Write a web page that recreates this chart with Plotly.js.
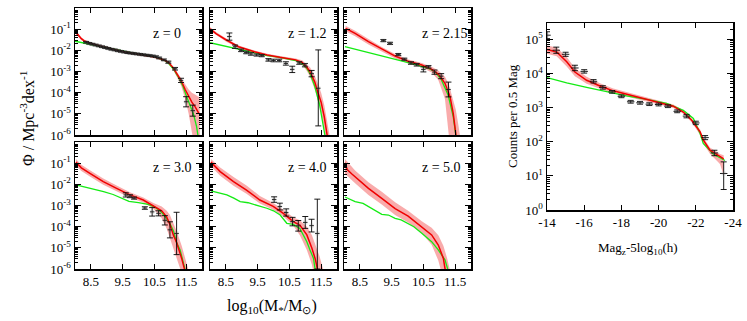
<!DOCTYPE html>
<html>
<head>
<meta charset="utf-8">
<script src="https://cdn.plot.ly/plotly-3.0.1.min.js"></script>
<style>html,body{margin:0;padding:0;background:#fff;}#chart{width:747px;height:321px;}</style>
</head>
<body>
<div id="chart"></div>
<script>
// ---------------- DATA (log10 values) ----------------
const zLabels = ['z = 0', 'z = 1.2', 'z = 2.15', 'z = 3.0', 'z = 4.0', 'z = 5.0'];
const massTicks = [8.5, 9.5, 10.5, 11.5];
const magTicks = [-14, -16, -18, -20, -22, -24];

// z = 0
const z0_redX = [8.0, 8.1, 8.2, 8.3, 8.5, 8.9, 9.5, 10.0, 10.5, 10.8, 10.95, 11.1, 11.25, 11.35, 11.47, 11.58, 11.68, 11.79, 11.9];
const z0_redY = [-1.1, -1.3, -1.45, -1.56, -1.68, -1.84, -2.06, -2.19, -2.32, -2.45, -2.58, -2.84, -3.2, -3.45, -3.85, -4.2, -4.45, -4.68, -4.98];
const z0_bandX = [8.0, 8.1, 8.2, 8.3, 8.5, 8.9, 9.5, 10.0, 10.5, 10.8, 10.95, 11.1, 11.25, 11.35, 11.47, 11.58, 11.68, 11.79, 11.9, 11.93];
const z0_bandHi = [-1.0, -1.22, -1.38, -1.5, -1.63, -1.8, -2.02, -2.15, -2.28, -2.41, -2.53, -2.76, -3.08, -3.3, -3.6, -3.85, -4.0, -4.1, -4.2, -4.3];
const z0_bandLo = [-1.2, -1.38, -1.52, -1.62, -1.73, -1.88, -2.1, -2.23, -2.36, -2.5, -2.65, -2.95, -3.38, -3.7, -4.3, -5.0, -5.9, -6.8, -7, -7];
const z0_greenX = [8.0, 8.3, 8.6, 9.0, 9.5, 10.0, 10.5, 10.8, 10.95, 11.1, 11.25, 11.4, 11.52, 11.63, 11.73, 11.83, 11.88];
const z0_greenY = [-1.57, -1.66, -1.75, -1.87, -2.05, -2.18, -2.31, -2.46, -2.62, -2.88, -3.25, -3.7, -4.2, -4.6, -5.0, -5.6, -6.1];
const z0_obsX = [8.35, 8.45, 8.55, 8.65, 8.75, 8.85, 8.95, 9.05, 9.15, 9.25, 9.35, 9.45, 9.55, 9.65, 9.75, 9.85, 9.95, 10.05, 10.15, 10.25, 10.35, 10.45, 10.55, 10.65, 10.8, 10.94, 11.15, 11.34, 11.5, 11.71];
const z0_obsY = [-1.62, -1.67, -1.71, -1.75, -1.79, -1.83, -1.87, -1.91, -1.95, -1.98, -2.02, -2.05, -2.08, -2.11, -2.13, -2.15, -2.17, -2.19, -2.21, -2.23, -2.25, -2.27, -2.3, -2.36, -2.45, -2.56, -2.87, -3.42, -4.43, -4.85];
const z0_obsUp = [0.04, 0.04, 0.04, 0.04, 0.04, 0.04, 0.04, 0.04, 0.04, 0.04, 0.04, 0.04, 0.04, 0.04, 0.04, 0.04, 0.04, 0.04, 0.04, 0.04, 0.04, 0.04, 0.04, 0.04, 0.04, 0.05, 0.06, 0.1, 0.24, 0.26];
const z0_obsDn = [0.04, 0.04, 0.04, 0.04, 0.04, 0.04, 0.04, 0.04, 0.04, 0.04, 0.04, 0.04, 0.04, 0.04, 0.04, 0.04, 0.04, 0.04, 0.04, 0.04, 0.04, 0.04, 0.04, 0.04, 0.04, 0.05, 0.06, 0.1, 0.24, 0.26];

// z = 1.2
const z1_redX = [8.0, 8.2, 8.5, 8.9, 9.4, 9.8, 10.2, 10.7, 10.9, 11.05, 11.15, 11.3, 11.4, 11.5, 11.6, 11.68, 11.72];
const z1_redY = [-0.98, -1.22, -1.5, -1.83, -2.07, -2.22, -2.33, -2.45, -2.57, -2.8, -3.01, -3.5, -4.0, -4.45, -5.15, -5.9, -6.3];
const z1_bandX = [8.0, 8.2, 8.5, 8.9, 9.4, 9.8, 10.2, 10.7, 10.9, 11.05, 11.15, 11.3, 11.4, 11.5, 11.6, 11.68, 11.72, 11.8];
const z1_bandHi = [-0.9, -1.14, -1.43, -1.77, -2.01, -2.16, -2.27, -2.38, -2.47, -2.65, -2.8, -3.2, -3.65, -4.0, -4.6, -5.3, -5.7, -6.3];
const z1_bandLo = [-1.08, -1.3, -1.58, -1.9, -2.13, -2.28, -2.39, -2.52, -2.68, -2.98, -3.25, -3.85, -4.4, -4.95, -5.7, -6.5, -7, -7];
const z1_greenX = [8.0, 8.5, 8.95, 9.4, 9.8, 10.2, 10.7, 10.9, 11.05, 11.15, 11.3, 11.45, 11.55, 11.63];
const z1_greenY = [-1.64, -1.8, -1.95, -2.11, -2.25, -2.33, -2.48, -2.62, -2.85, -3.1, -3.7, -4.55, -5.3, -6.1];
const z1_obsX = [8.61, 8.79, 8.98, 9.14, 9.29, 9.47, 9.63, 9.84, 10.0, 10.18, 10.39, 10.59, 10.81, 10.99, 11.2, 11.41];
const z1_obsY = [-1.35, -1.83, -2.0, -2.1, -2.17, -2.22, -2.25, -2.45, -2.48, -2.48, -2.62, -2.9, -2.6, -2.7, -3.1, -3.79];
const z1_obsUp = [0.17, 0.08, 0.06, 0.06, 0.06, 0.05, 0.05, 0.06, 0.06, 0.06, 0.08, 0.15, 0.06, 0.08, 0.15, 1.81];
const z1_obsDn = [0.17, 0.08, 0.06, 0.06, 0.06, 0.05, 0.05, 0.06, 0.06, 0.06, 0.08, 0.15, 0.06, 0.08, 0.15, 1.78];

// z = 2.15
const z2_redX = [8.05, 8.35, 8.77, 9.19, 9.61, 10.02, 10.45, 10.76, 10.97, 11.18, 11.34, 11.44, 11.52, 11.56];
const z2_redY = [-0.96, -1.2, -1.59, -1.95, -2.27, -2.52, -2.69, -2.9, -3.12, -3.56, -4.19, -4.98, -5.92, -6.4];
const z2_bandX = [8.05, 8.35, 8.77, 9.19, 9.61, 10.02, 10.45, 10.76, 10.97, 11.18, 11.3, 11.44, 11.52, 11.6, 11.67];
const z2_bandHi = [-0.84, -1.08, -1.46, -1.84, -2.17, -2.43, -2.6, -2.78, -2.95, -3.25, -3.6, -4.3, -4.8, -5.5, -6.2];
const z2_bandLo = [-1.1, -1.33, -1.72, -2.07, -2.38, -2.62, -2.8, -3.05, -3.4, -4.3, -6.0, -7, -7, -7, -7];
const z2_greenX = [8.03, 8.77, 9.4, 9.82, 10.24, 10.66, 10.87, 11.07, 11.28, 11.44, 11.52, 11.55];
const z2_greenY = [-1.83, -2.11, -2.33, -2.49, -2.66, -2.85, -3.01, -3.4, -4.11, -5.13, -5.92, -6.3];
const z2_obsX = [9.24, 9.45, 9.71, 9.9, 10.11, 10.29, 10.5, 10.66, 10.85, 11.06, 11.29];
const z2_obsY = [-1.54, -1.67, -2.2, -2.42, -2.6, -2.68, -2.9, -2.78, -3.03, -3.22, -3.85];
const z2_obsUp = [0.05, 0.05, 0.05, 0.05, 0.06, 0.06, 0.12, 0.06, 0.1, 0.12, 0.35];
const z2_obsDn = [0.05, 0.05, 0.05, 0.05, 0.06, 0.06, 0.12, 0.06, 0.1, 0.12, 0.35];

// z = 3.0
const z3_redX = [8.03, 8.2, 8.47, 8.89, 9.31, 9.73, 10.15, 10.47, 10.73, 10.89, 10.99, 11.1, 11.2, 11.36, 11.46, 11.5];
const z3_redY = [-0.95, -1.22, -1.48, -1.87, -2.19, -2.5, -2.74, -3.0, -3.25, -3.55, -3.9, -4.4, -4.75, -5.5, -6.0, -6.3];
const z3_bandX = [8.03, 8.2, 8.47, 8.89, 9.31, 9.73, 10.15, 10.47, 10.73, 10.89, 10.99, 11.1, 11.2, 11.36, 11.46, 11.55, 11.62];
const z3_bandHi = [-0.8, -1.07, -1.33, -1.72, -2.05, -2.37, -2.62, -2.88, -3.05, -3.25, -3.45, -3.8, -4.2, -4.9, -5.4, -5.9, -6.3];
const z3_bandLo = [-1.12, -1.37, -1.63, -2.02, -2.33, -2.63, -2.86, -3.15, -3.6, -4.1, -4.6, -5.1, -5.5, -6.2, -7, -7, -7];
const z3_greenX = [8.03, 8.3, 8.6, 8.9, 9.2, 9.5, 9.7, 10.0, 10.3, 10.5, 10.7, 10.85, 10.99, 11.1, 11.2, 11.31, 11.4, 11.48];
const z3_greenY = [-2.03, -2.12, -2.22, -2.35, -2.48, -2.68, -2.8, -2.86, -2.95, -3.06, -3.28, -3.55, -3.85, -4.2, -4.75, -5.1, -5.6, -6.1];
const z3_obsX = [9.6, 9.73, 9.86, 10.2, 10.43, 10.63, 10.83, 10.99, 11.2];
const z3_obsY = [-2.5, -2.56, -2.65, -3.12, -3.3, -3.37, -3.7, -4.15, -4.32];
const z3_obsUp = [0.1, 0.07, 0.05, 0.06, 0.2, 0.12, 0.22, 0.38, 1.0];
const z3_obsDn = [0.1, 0.07, 0.05, 0.06, 0.2, 0.12, 0.22, 0.38, 1.0];

// z = 4.0
const z4_redX = [8.03, 8.32, 8.74, 9.15, 9.57, 9.99, 10.31, 10.62, 10.83, 11.05, 11.21, 11.31, 11.38, 11.42];
const z4_redY = [-0.95, -1.4, -1.87, -2.27, -2.74, -3.04, -3.37, -3.76, -3.92, -4.39, -5.02, -5.5, -5.97, -6.3];
const z4_bandX = [8.03, 8.32, 8.74, 9.15, 9.57, 9.99, 10.31, 10.62, 10.83, 11.05, 11.21, 11.31, 11.45, 11.58];
const z4_bandHi = [-0.8, -1.2, -1.65, -2.05, -2.55, -2.88, -3.2, -3.55, -3.7, -4.0, -4.4, -4.8, -5.4, -6.1];
const z4_bandLo = [-1.15, -1.6, -2.07, -2.45, -2.9, -3.2, -3.52, -3.95, -4.4, -5.1, -5.8, -6.5, -7, -7];
const z4_greenX = [8.03, 8.3, 8.53, 8.75, 8.95, 9.2, 9.37, 9.79, 10.0, 10.21, 10.42, 10.62, 10.83, 11.05, 11.15, 11.26, 11.31, 11.33];
const z4_greenY = [-2.31, -2.42, -2.5, -2.65, -2.82, -2.87, -2.94, -3.13, -3.25, -3.45, -3.84, -3.89, -4.08, -4.71, -5.1, -5.5, -6.0, -6.3];
const z4_obsX = [10.02, 10.2, 10.4, 10.6, 10.78, 11.0, 11.2, 11.38];
const z4_obsY = [-2.72, -3.05, -3.33, -3.76, -3.96, -3.8, -3.95, -4.32];
const z4_obsUp = [0.13, 0.16, 0.17, 0.2, 0.25, 0.28, 0.3, 1.62];
const z4_obsDn = [0.13, 0.16, 0.17, 0.2, 0.25, 0.28, 0.3, 1.68];

// z = 5.0
const z5_redX = [8.03, 8.1, 8.24, 8.35, 8.77, 9.19, 9.61, 10.02, 10.45, 10.76, 10.97, 11.13, 11.18, 11.22];
const z5_redY = [-0.98, -1.3, -1.5, -1.64, -2.19, -2.66, -3.15, -3.5, -4.0, -4.39, -4.87, -5.5, -5.97, -6.3];
const z5_bandX = [8.03, 8.35, 8.77, 9.19, 9.61, 10.02, 10.45, 10.76, 10.97, 11.13, 11.25, 11.36];
const z5_bandHi = [-0.8, -1.35, -1.9, -2.35, -2.85, -3.25, -3.75, -4.05, -4.4, -4.9, -5.5, -6.2];
const z5_bandLo = [-1.5, -1.95, -2.5, -2.95, -3.45, -3.8, -4.3, -4.85, -5.6, -6.5, -7, -7];
const z5_greenX = [8.03, 8.2, 8.35, 8.6, 8.77, 9.0, 9.19, 9.4, 9.61, 9.8, 10.02, 10.2, 10.45, 10.76, 10.97, 11.18, 11.26, 11.3];
const z5_greenY = [-2.6, -2.72, -2.82, -2.9, -3.06, -3.25, -3.42, -3.45, -3.61, -3.68, -3.84, -4.0, -4.31, -4.71, -5.1, -5.57, -5.97, -6.3];

// Luminosity function (right panel), log10 counts
const lf_redX = [-14, -14.52, -15.06, -15.5, -16.13, -16.85, -17.56, -18.46, -19.36, -20.08, -20.79, -21.33, -21.78, -22.23, -22.4, -22.76, -23.3, -23.5];
const lf_redY = [4.70, 4.63, 4.34, 4.04, 3.80, 3.63, 3.49, 3.36, 3.24, 3.14, 3.04, 2.87, 2.63, 2.29, 2.05, 1.75, 1.56, 1.5];
const lf_bandHi = [4.82, 4.76, 4.48, 4.16, 3.9, 3.71, 3.56, 3.43, 3.31, 3.2, 3.09, 2.92, 2.69, 2.36, 2.13, 1.83, 1.64, 1.6];
const lf_bandLo = [4.58, 4.5, 4.2, 3.92, 3.7, 3.55, 3.42, 3.29, 3.17, 3.08, 2.99, 2.82, 2.57, 2.2, 1.95, 1.65, 1.35, 1.02];
const lf_greenX = [-14, -15.06, -16.13, -17.2, -18.28, -19.36, -20.43, -21.33, -21.87, -22.23, -22.4, -22.94, -23.39, -23.57];
const lf_greenY = [3.88, 3.72, 3.59, 3.46, 3.34, 3.24, 3.12, 2.92, 2.68, 2.24, 1.95, 1.64, 1.5, 1.45];
const lf_obsX = [-14.0, -14.5, -15.0, -15.5, -16.0, -16.5, -17.0, -17.5, -18.0, -18.5, -19.0, -19.5, -20.0, -20.5, -21.0, -21.5, -22.0, -22.5, -23.0, -23.5];
const lf_obsY = [5.12, 4.68, 4.56, 4.16, 4.06, 3.77, 3.59, 3.46, 3.33, 3.17, 3.14, 3.10, 3.09, 3.04, 2.89, 2.75, 2.55, 2.12, 1.67, 1.07];
const lf_obsUp = [0.1, 0.09, 0.06, 0.08, 0.05, 0.05, 0.05, 0.04, 0.04, 0.04, 0.04, 0.04, 0.04, 0.04, 0.04, 0.05, 0.05, 0.06, 0.08, 0.34];
const lf_obsDn = [0.1, 0.09, 0.06, 0.08, 0.05, 0.05, 0.05, 0.04, 0.04, 0.04, 0.04, 0.04, 0.04, 0.04, 0.04, 0.05, 0.05, 0.06, 0.08, 0.47];

// ---------------- STYLE ----------------
const FONT = 'Liberation Serif';
const RED = 'rgb(240,0,0)';
const GREEN = 'rgb(20,235,20)';
const BAND = 'rgba(245,120,120,0.62)';
const W = 747, H = 321;

const pw = a => a.map(v => Math.pow(10, v));

function bandTrace(xs, hi, lo, xa, ya) {
  return {
    x: xs.concat(xs.slice().reverse()),
    y: pw(hi).concat(pw(lo).reverse()),
    xaxis: xa, yaxis: ya, type: 'scatter', mode: 'lines',
    fill: 'toself', fillcolor: BAND, line: {width: 0, color: BAND}, hoverinfo: 'skip'
  };
}
function lineTrace(xs, ys, color, xa, ya, w) {
  return {x: xs, y: pw(ys), xaxis: xa, yaxis: ya, type: 'scatter', mode: 'lines',
          line: {color: color, width: w || 1.5}};
}
function obsTrace(xs, ys, up, dn, xa, ya, xerr, cap) {
  return {
    x: xs, y: pw(ys), xaxis: xa, yaxis: ya, type: 'scatter', mode: 'markers',
    marker: {symbol: 'square', size: 4, color: 'rgba(120,120,120,0.22)'},
    error_y: {type: 'data', symmetric: false,
      array: ys.map((v, i) => Math.pow(10, v + up[i]) - Math.pow(10, v)),
      arrayminus: ys.map((v, i) => Math.pow(10, v) - Math.pow(10, v - dn[i])),
      color: 'black', thickness: 0.9, width: cap},
    error_x: {type: 'constant', value: xerr, color: 'black', thickness: 0.9, width: 0}
  };
}

const traces = [];
const panels = [
  [z0_bandX, z0_bandHi, z0_bandLo, z0_redX, z0_redY, z0_greenX, z0_greenY, z0_obsX, z0_obsY, z0_obsUp, z0_obsDn],
  [z1_bandX, z1_bandHi, z1_bandLo, z1_redX, z1_redY, z1_greenX, z1_greenY, z1_obsX, z1_obsY, z1_obsUp, z1_obsDn],
  [z2_bandX, z2_bandHi, z2_bandLo, z2_redX, z2_redY, z2_greenX, z2_greenY, z2_obsX, z2_obsY, z2_obsUp, z2_obsDn],
  [z3_bandX, z3_bandHi, z3_bandLo, z3_redX, z3_redY, z3_greenX, z3_greenY, z3_obsX, z3_obsY, z3_obsUp, z3_obsDn],
  [z4_bandX, z4_bandHi, z4_bandLo, z4_redX, z4_redY, z4_greenX, z4_greenY, z4_obsX, z4_obsY, z4_obsUp, z4_obsDn],
  [z5_bandX, z5_bandHi, z5_bandLo, z5_redX, z5_redY, z5_greenX, z5_greenY, null, null, null, null]
];
panels.forEach((p, i) => {
  const xa = 'x' + (i + 1), ya = 'y' + (i + 1);
  traces.push(bandTrace(p[0], p[1], p[2], xa, ya));
  traces.push(lineTrace(p[5], p[6], GREEN, xa, ya, 1.3));
  traces.push(lineTrace(p[3], p[4], RED, xa, ya, 1.5));
  if (p[7]) traces.push(obsTrace(p[7], p[8], p[9], p[10], xa, ya, 0.07, 3));
});
traces.push(bandTrace(lf_redX, lf_bandHi, lf_bandLo, 'x7', 'y7'));
traces.push(lineTrace(lf_greenX, lf_greenY, GREEN, 'x7', 'y7', 1.3));
traces.push(lineTrace(lf_redX, lf_redY, RED, 'x7', 'y7', 1.5));
traces.push(obsTrace(lf_obsX, lf_obsY, lf_obsUp, lf_obsDn, 'x7', 'y7', 0.2, 3));

// ---------------- LAYOUT ----------------
const sup = n => '10<sup>' + n + '</sup>';
function minorLog(lo, hi) {
  const v = [];
  for (let e = lo; e < hi; e++) for (let d = 2; d <= 9; d++) v.push(d * Math.pow(10, e));
  return v;
}
function frame(extra) {
  return Object.assign({
    showline: true, linecolor: 'black', linewidth: 1.5, mirror: 'allticks',
    ticks: 'inside', tickcolor: 'black', tickwidth: 1, showgrid: false, zeroline: false,
    tickfont: {family: FONT, size: 13, color: 'black'}
  }, extra);
}

const colPx = [[75, 202], [210, 337], [344, 471]];
const rowPx = [[8, 135], [142, 269]];
const dx = p => [p[0] / W, p[1] / W];
const dy = p => [1 - p[1] / H, 1 - p[0] / H];

const layout = {
  width: W, height: H, margin: {l: 0, r: 0, t: 0, b: 0},
  paper_bgcolor: 'white', plot_bgcolor: 'white', showlegend: false,
  font: {family: FONT, size: 13, color: 'black'}, annotations: []
};
for (let i = 0; i < 6; i++) {
  const c = i % 3, r = Math.floor(i / 3);
  const yVals = r === 0 ? [-6, -5, -4, -3, -2, -1, 0] : [-6, -5, -4, -3, -2, -1];
  layout['xaxis' + (i + 1)] = frame({
    domain: dx(colPx[c]), range: [8, 12], anchor: 'y' + (i + 1),
    tickmode: 'array', tickvals: massTicks, ticktext: massTicks.map(v => v.toFixed(1)),
    showticklabels: r === 1, ticklen: 5
  });
  layout['yaxis' + (i + 1)] = frame({
    domain: dy(rowPx[r]), type: 'log', range: [-6, 0], anchor: 'x' + (i + 1),
    tickmode: 'array', tickvals: pw(yVals), ticktext: yVals.map(sup),
    showticklabels: c === 0, ticklen: 6,
    minor: {tickmode: 'array', tickvals: minorLog(-6, 0), ticks: 'inside', ticklen: 3, tickwidth: 1, tickcolor: 'black'}
  });
  layout.annotations.push({xref: 'x' + (i + 1), yref: 'y' + (i + 1), x: 10.4, y: -1.2,
    text: zLabels[i], showarrow: false, xanchor: 'left', yanchor: 'middle',
    font: {family: FONT, size: 14, color: 'black'}});
}
const lfY = [0, 1, 2, 3, 4, 5];
layout.xaxis7 = frame({
  domain: dx([547, 733]), range: [-14, -24], anchor: 'y7',
  tickmode: 'array', tickvals: magTicks, ticktext: magTicks.map(String), ticklen: 5
});
layout.yaxis7 = frame({
  domain: dy([23, 210]), type: 'log', range: [0, Math.log10(3e5)], anchor: 'x7',
  tickmode: 'array', tickvals: pw(lfY), ticktext: lfY.map(sup), ticklen: 6,
  minor: {tickmode: 'array', tickvals: minorLog(0, 6).filter(v => v < 3e5), ticks: 'inside', ticklen: 3, tickwidth: 1, tickcolor: 'black'}
});
// axis titles as paper annotations
layout.annotations.push({xref: 'paper', yref: 'paper', x: 28 / W, y: 1 - 119 / H, textangle: -90,
  text: 'Φ / Mpc<sup>-3</sup>dex<sup>-1</sup>', showarrow: false, xanchor: 'center', yanchor: 'middle',
  font: {family: FONT, size: 16, color: 'black'}});
layout.annotations.push({xref: 'paper', yref: 'paper', x: 272 / W, y: 1 - 306 / H,
  text: 'log<sub>10</sub>(M<sub>*</sub>/M<sub>⊙</sub>)', showarrow: false, xanchor: 'center', yanchor: 'middle',
  font: {family: FONT, size: 16, color: 'black'}});
layout.annotations.push({xref: 'paper', yref: 'paper', x: 512 / W, y: 1 - 116 / H, textangle: -90,
  text: 'Counts per 0.5 Mag', showarrow: false, xanchor: 'center', yanchor: 'middle',
  font: {family: FONT, size: 13, color: 'black'}});
layout.annotations.push({xref: 'paper', yref: 'paper', x: 638 / W, y: 1 - 248 / H,
  text: 'Mag<sub>z</sub>-5log<sub>10</sub>(h)', showarrow: false, xanchor: 'center', yanchor: 'middle',
  font: {family: FONT, size: 13, color: 'black'}});

Plotly.newPlot('chart', traces, layout, {staticPlot: true, displayModeBar: false});
</script>
</body>
</html>
